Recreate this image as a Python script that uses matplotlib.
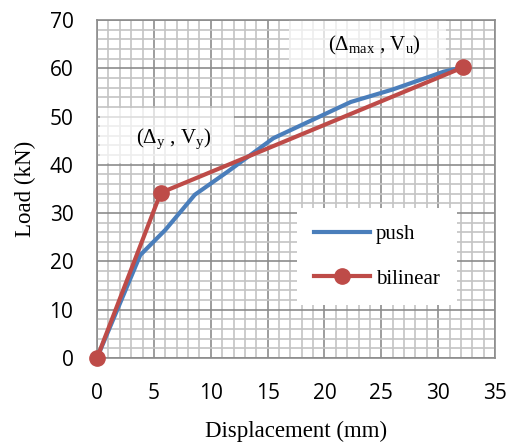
import numpy as np
import matplotlib.pyplot as plt
from matplotlib.ticker import MultipleLocator
from matplotlib.patches import Rectangle

plt.rcParams['mathtext.fontset'] = 'custom'
plt.rcParams['mathtext.rm'] = 'Liberation Serif'
plt.rcParams['mathtext.it'] = 'Liberation Serif:italic'

# push-over curve
push_x = [0, 3.8, 6.0, 8.6, 11.5, 15.5, 22.3, 26.0, 30.5, 32.2]
push_y = [0, 21.3, 26.5, 33.8, 38.6, 45.5, 53.0, 55.6, 59.3, 60.2]

# bilinear idealisation
bil_x = [0, 5.6, 32.2]
bil_y = [0, 34.2, 60.2]

fig = plt.figure(figsize=(5.12, 4.43), dpi=100)
ax = fig.add_axes([0.1895, 0.192, 0.7775, 0.763])

ax.set_xlim(0, 35)
ax.set_ylim(0, 70)
ax.xaxis.set_major_locator(MultipleLocator(5))
ax.xaxis.set_minor_locator(MultipleLocator(1))
ax.yaxis.set_major_locator(MultipleLocator(10))
ax.yaxis.set_minor_locator(MultipleLocator(2))
ax.grid(which='minor', color='#c4c4c4', linewidth=1.2)
ax.grid(which='major', color='#8c8c8c', linewidth=1.2)
ax.set_axisbelow(True)
for s in ax.spines.values():
    s.set_color('#8c8c8c')
    s.set_linewidth(1.2)

ax.tick_params(which='both', length=0)
ax.tick_params(axis='x', pad=18, labelsize=15)
ax.tick_params(axis='y', pad=17, labelsize=15)
for lab in ax.get_xticklabels() + ax.get_yticklabels():
    lab.set_family('Open Sans')

ax.plot(push_x, push_y, color='#4a7ebb', linewidth=3.0, label='push', zorder=3)
ax.plot(bil_x, bil_y, color='#be4b48', linewidth=3.0, marker='o', markersize=11,
        label='bilinear', zorder=4, clip_on=False)

# label backgrounds
ax.add_patch(Rectangle((0.26, 40.4), 11.74, 11.4, facecolor='white', alpha=0.7,
                       edgecolor='none', zorder=2.5))
ax.add_patch(Rectangle((16.9, 60.2), 13.8, 9.8, facecolor='white', alpha=0.7,
                       edgecolor='none', zorder=2.5))
ax.text(6.7, 45.3, r'($\Delta_\mathrm{y}$ , V$_\mathrm{y}$)', fontsize=15,
        family='Liberation Serif', ha='center', va='center', zorder=5)
ax.text(24.4, 64.8, r'($\Delta_\mathrm{max}$ , V$_\mathrm{u}$)', fontsize=15,
        family='Liberation Serif', ha='center', va='center', zorder=5)

leg = ax.legend(loc='center', bbox_to_anchor=(0.703, 0.30), frameon=True,
                prop={'family': 'Liberation Serif', 'size': 15},
                handlelength=2.7, handletextpad=0.3, labelspacing=1.2,
                borderpad=0.8, borderaxespad=0, fancybox=False)
leg.get_frame().set_edgecolor('none')
leg.get_frame().set_alpha(1)
leg.set_zorder(6)

ax.set_xlabel('Displacement (mm)', family='Liberation Serif', fontsize=16.5, labelpad=12)
ax.set_ylabel('Load (kN)', family='Liberation Serif', fontsize=16.5, labelpad=10)

fig.savefig('out.png', dpi=100)
